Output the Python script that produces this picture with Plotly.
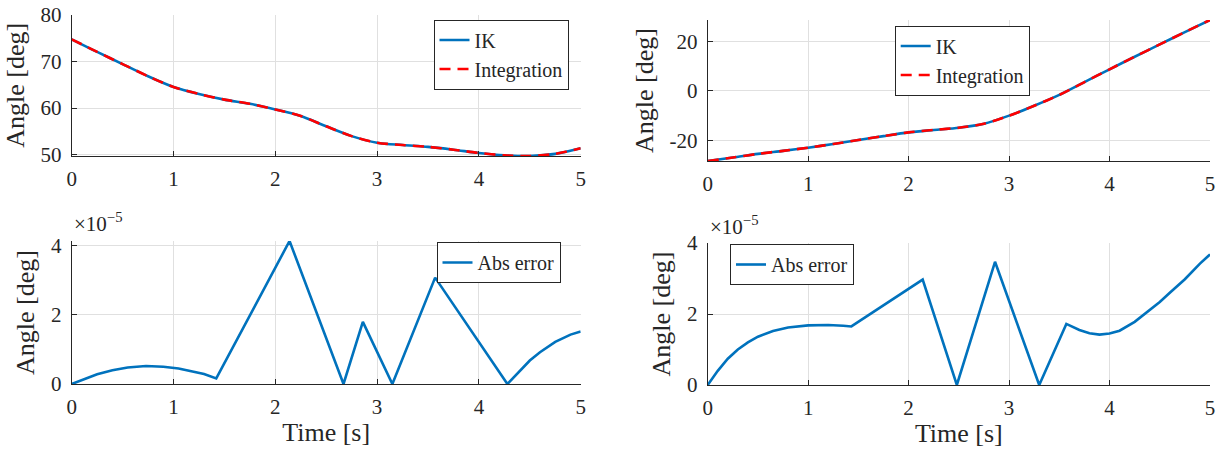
import plotly.graph_objects as go

# ---------------- data ----------------
t_angle = [0, 0.25, 0.5, 0.75, 1, 1.25, 1.5, 1.75, 2, 2.25, 2.5, 2.75, 3,
           3.25, 3.5, 3.75, 4, 4.25, 4.5, 4.75, 5]
ik_left = [74.7, 72.0, 69.4, 66.8, 64.5, 63.0, 61.8, 60.9, 59.7, 58.3, 56.1,
           54.0, 52.6, 52.1, 51.7, 51.1, 50.4, 49.9, 49.75, 50.2, 51.4]
integ_left = [74.7, 72.0, 69.4, 66.8, 64.5, 63.0, 61.8, 60.9, 59.7, 58.3, 56.1,
              54.0, 52.6, 52.1, 51.7, 51.1, 50.4, 49.9, 49.75, 50.2, 51.4]
ik_right = [-28.4, -27.0, -25.5, -24.3, -23.0, -21.5, -19.9, -18.3, -16.8,
            -15.8, -14.9, -13.3, -10.0, -6.0, -1.6, 3.6, 8.8, 13.9, 18.9,
            23.9, 28.8]
integ_right = [-28.4, -27.0, -25.5, -24.3, -23.0, -21.5, -19.9, -18.3, -16.8,
               -15.8, -14.9, -13.3, -10.0, -6.0, -1.6, 3.6, 8.8, 13.9, 18.9,
               23.9, 28.8]

# absolute error, in units of 1e-5 deg
t_err_left = [0, 0.1, 0.25, 0.4, 0.55, 0.73, 0.9, 1.05, 1.2, 1.3, 1.42,
              2.14, 2.67, 2.86, 3.15, 3.57, 4.28, 4.4, 4.5, 4.6, 4.75, 4.9, 5]
err_left = [0, 0.12, 0.28, 0.40, 0.48, 0.52, 0.50, 0.45, 0.36, 0.29, 0.16,
            4.14, 0, 1.80, 0, 3.08, 0, 0.38, 0.68, 0.92, 1.22, 1.43, 1.52]
t_err_right = [0, 0.1, 0.2, 0.3, 0.4, 0.5, 0.65, 0.8, 1.0, 1.2, 1.35, 1.43,
               2.14, 2.48, 2.86, 3.30, 3.57, 3.7, 3.8, 3.9, 4.0, 4.1, 4.25,
               4.4, 4.5, 4.6, 4.75, 4.9, 5.0]
err_right = [0, 0.40, 0.74, 1.00, 1.20, 1.36, 1.52, 1.62, 1.68, 1.69, 1.67,
             1.65, 2.97, 0, 3.47, 0, 1.72, 1.55, 1.46, 1.42, 1.45, 1.53, 1.78,
             2.10, 2.34, 2.60, 2.98, 3.42, 3.68]

x_ticks = [0, 1, 2, 3, 4, 5]
y_ticks_tl = [50, 60, 70, 80]
y_ticks_tr = [-20, 0, 20]
y_ticktext_tr = ["-20", "0", "20"]
y_ticks_err = [0, 2, 4]

# ---------------- style ----------------
W, H = 1221, 452
FONT = "Liberation Serif, Times New Roman, serif"
INK = "#262626"
GRID = "#e0e0e0"
BLUE = "#0072BD"
RED = "#FF0000"
DASH = "11px,7px"


def px_x(a, b):
    return [a / W, b / W]


def px_y(top, bottom):
    return [1 - bottom / H, 1 - top / H]


fig = go.Figure()

fig.add_trace(go.Scatter(x=t_angle, y=ik_left, name="IK", mode="lines",
                         line=dict(color=BLUE, width=2.6, shape="spline", smoothing=0.8),
                         xaxis="x", yaxis="y", legend="legend"))
fig.add_trace(go.Scatter(x=t_angle, y=integ_left, name="Integration", mode="lines",
                         line=dict(color=RED, width=2.6, dash=DASH, shape="spline", smoothing=0.8),
                         xaxis="x", yaxis="y", legend="legend"))
fig.add_trace(go.Scatter(x=t_angle, y=ik_right, name="IK", mode="lines",
                         line=dict(color=BLUE, width=2.6, shape="spline", smoothing=0.8),
                         xaxis="x2", yaxis="y2", legend="legend2"))
fig.add_trace(go.Scatter(x=t_angle, y=integ_right, name="Integration", mode="lines",
                         line=dict(color=RED, width=2.6, dash=DASH, shape="spline", smoothing=0.8),
                         xaxis="x2", yaxis="y2", legend="legend2"))
fig.add_trace(go.Scatter(x=t_err_left, y=err_left, name="Abs error", mode="lines",
                         line=dict(color=BLUE, width=2.6),
                         xaxis="x3", yaxis="y3", legend="legend3"))
fig.add_trace(go.Scatter(x=t_err_right, y=err_right, name="Abs error", mode="lines",
                         line=dict(color=BLUE, width=2.6),
                         xaxis="x4", yaxis="y4", legend="legend4"))

tickfont = dict(family=FONT, size=21, color=INK)
titlefont = dict(family=FONT, size=26, color=INK)


def xax(domain, anchor, title=None):
    d = dict(domain=domain, anchor=anchor, range=[0, 5], tickvals=x_ticks,
             showgrid=True, gridcolor=GRID, gridwidth=1, zeroline=False,
             showline=True, linecolor=INK, linewidth=1, ticks="inside",
             ticklen=5, tickcolor=INK, tickfont=tickfont, fixedrange=True,
             ticklabelstandoff=4, automargin=False)
    if title:
        d["title"] = dict(text=title, font=titlefont, standoff=4)
    return d


def yax(domain, anchor, rng, tickvals, ticktext=None):
    d = dict(domain=domain, anchor=anchor, range=rng, tickvals=tickvals,
             showgrid=True, gridcolor=GRID, gridwidth=1, zeroline=False,
             showline=True, linecolor=INK, linewidth=1, ticks="inside",
             ticklen=5, tickcolor=INK, tickfont=tickfont, fixedrange=True,
             ticklabelstandoff=5, automargin=False,
             title=dict(text="Angle [deg]", font=titlefont, standoff=8))
    if ticktext is not None:
        d["ticktext"] = ticktext
    return d


legend_style = dict(font=dict(family=FONT, size=20, color=INK),
                    bgcolor="white", bordercolor=INK, borderwidth=1,
                    xanchor="left", yanchor="top", itemwidth=30,
                    tracegroupgap=0)

fig.update_layout(
    template="none",
    width=W, height=H, margin=dict(l=0, r=0, t=0, b=0, pad=0),
    paper_bgcolor="white", plot_bgcolor="white",
    font=dict(family=FONT, color=INK),
    xaxis=xax(px_x(71.7, 580.7), "y"),
    yaxis=yax(px_y(14.5, 156), "x", [49.75, 80], y_ticks_tl),
    xaxis2=xax(px_x(707.7, 1210), "y2"),
    yaxis2=yax(px_y(20, 161), "x2", [-28.4, 28.8], y_ticks_tr, y_ticktext_tr),
    xaxis3=xax(px_x(71.7, 580.7), "y3", "Time [s]"),
    yaxis3=yax(px_y(241, 384), "x3", [0, 4.14], y_ticks_err),
    xaxis4=xax(px_x(707.7, 1210), "y4", "Time [s]"),
    yaxis4=yax(px_y(243, 385), "x4", [0, 4.0], y_ticks_err),
    legend=dict(x=433.5 / W, y=1 - 19.5 / H, **legend_style),
    legend2=dict(x=894.7 / W, y=1 - 25.5 / H, **legend_style),
    legend3=dict(x=436.5 / W, y=1 - 242 / H, **legend_style),
    legend4=dict(x=730 / W, y=1 - 244 / H, **legend_style),
    showlegend=True,
)

fig.add_annotation(text="×10<sup>−5</sup>", xref="paper", yref="paper",
                   x=71.7 / W, y=1 - 238 / H, xanchor="left", yanchor="bottom",
                   showarrow=False, font=dict(family=FONT, size=21, color=INK))
fig.add_annotation(text="×10<sup>−5</sup>", xref="paper", yref="paper",
                   x=707.7 / W, y=1 - 241 / H, xanchor="left", yanchor="bottom",
                   showarrow=False, font=dict(family=FONT, size=21, color=INK))

fig.write_html("out.html", config={"displayModeBar": False},
               post_script="document.body.style.margin='0';document.body.style.overflow='hidden';")
